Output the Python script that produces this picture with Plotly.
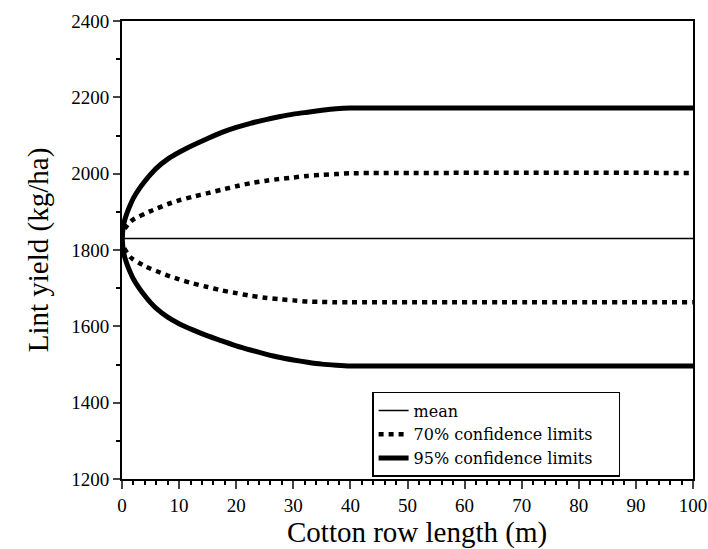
import plotly.graph_objects as go

x_len = [0, 0.25, 0.5, 1, 1.5, 2, 3, 4, 5, 6, 8, 10, 12.5, 15, 17.5, 20,
         22.5, 25, 27.5, 30, 32.5, 35, 37.5, 40, 100]
mean_yield = [1830] * len(x_len)
upper95 = [1830, 1865, 1880, 1902, 1920, 1936, 1960, 1980, 1998, 2014, 2038, 2056,
           2075, 2092, 2108, 2121, 2132, 2141, 2149, 2156, 2161, 2166, 2170, 2172, 2172]
lower95 = [1830, 1796, 1780, 1758, 1740, 1724, 1700, 1680, 1662, 1647, 1624, 1607,
           1590, 1575, 1562, 1549, 1538, 1528, 1519, 1512, 1506, 1501, 1498, 1496, 1496]
upper70 = [1830, 1848, 1856, 1866, 1874, 1880, 1888, 1895, 1902, 1908, 1920, 1930,
           1940, 1949, 1958, 1967, 1975, 1981, 1986, 1990, 1994, 1997, 1999, 2001, 2002]
lower70 = [1830, 1810, 1802, 1790, 1781, 1775, 1766, 1758, 1751, 1745, 1733, 1723,
           1712, 1703, 1694, 1687, 1680, 1675, 1671, 1668, 1665, 1664, 1663, 1663, 1663]

x_ticks = [0, 10, 20, 30, 40, 50, 60, 70, 80, 90, 100]
y_ticks = [1200, 1400, 1600, 1800, 2000, 2200, 2400]
x_title = "Cotton row length (m)"
y_title = "Lint yield (kg/ha)"

FONT = "Liberation Serif"
PAD = "\u00a0\u00a0\u00a0\u00a0"

fig = go.Figure()
fig.add_trace(go.Scatter(x=x_len, y=mean_yield, mode="lines", name="mean",
                         line=dict(color="black", width=1.5)))
fig.add_trace(go.Scatter(x=x_len, y=upper70, mode="lines", name="70% confidence limits" + PAD,
                         line=dict(color="black", width=4.5, dash="5px,5px", shape="spline", smoothing=0.6)))
fig.add_trace(go.Scatter(x=x_len, y=lower70, mode="lines", showlegend=False,
                         line=dict(color="black", width=4.5, dash="5px,5px", shape="spline", smoothing=0.6)))
fig.add_trace(go.Scatter(x=x_len, y=upper95, mode="lines", name="95% confidence limits" + PAD,
                         line=dict(color="black", width=5, shape="spline", smoothing=0.6)))
fig.add_trace(go.Scatter(x=x_len, y=lower95, mode="lines", showlegend=False,
                         line=dict(color="black", width=5, shape="spline", smoothing=0.6)))

fig.add_annotation(text=x_title, xref="paper", yref="paper", x=0.516, y=-0.116,
                   xanchor="center", yanchor="middle", showarrow=False,
                   font=dict(family=FONT, size=29, color="black"))

fig.update_layout(
    width=708, height=549,
    margin=dict(l=122, r=15, t=21, b=70),
    paper_bgcolor="white", plot_bgcolor="white",
    font=dict(family=FONT, color="black", size=19),
    showlegend=True,
    legend=dict(x=0.438, y=0.19, xanchor="left", yanchor="top",
                bordercolor="black", borderwidth=1.5, bgcolor="white",
                font=dict(family="DejaVu Serif", size=16), tracegroupgap=0,
                itemwidth=30),
    xaxis=dict(range=[0, 100], tickvals=x_ticks, ticks="outside", ticklen=8,
               tickwidth=1.5, showline=True, linecolor="black", linewidth=2,
               mirror=True, showgrid=False, zeroline=False, automargin=False,
               tickfont=dict(family=FONT, size=19),
               minor=dict(dtick=2, ticks="outside", ticklen=4, tickcolor="black", showgrid=False)),
    yaxis=dict(range=[1200, 2400], tickvals=y_ticks, ticks="outside", ticklen=7,
               tickwidth=1.5, showline=True, linecolor="black", linewidth=2,
               mirror=True, showgrid=False, zeroline=False, automargin=False,
               tickfont=dict(family=FONT, size=19),
               minor=dict(dtick=100, ticks="outside", ticklen=4, tickcolor="black", showgrid=False),
               title=dict(text=y_title, font=dict(family=FONT, size=29), standoff=14)),
)

fig.write_html("out.html")
